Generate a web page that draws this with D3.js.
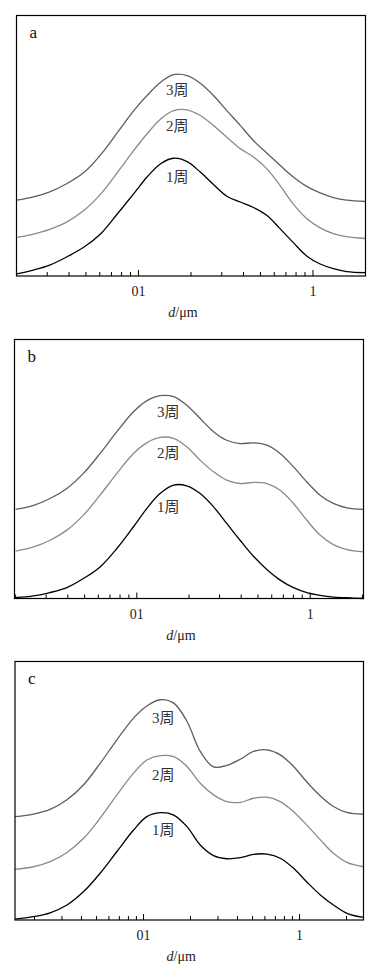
<!DOCTYPE html>
<html lang="zh">
<head>
  <meta charset="UTF-8">
  <title>粒径分布</title>
  <script src="https://d3js.org/d3.v7.min.js"></script>
  <style>
    body { margin: 0; background: #fff; }
    svg { display: block; }
    text { font-family: "Liberation Serif", "DejaVu Serif", "Noto Sans CJK SC", serif; fill: #222; }
    .frame { fill: none; stroke: #000; stroke-width: 1.2px; }
    .tick { stroke: #000; stroke-width: 1px; }
    .curve { fill: none; stroke-width: 1.3px; }
  </style>
</head>
<body>
  <svg id="chart" width="387" height="975"></svg>

  <script>
    // ----- data (d in μm, frequency in arbitrary units, 0 = frame bottom, 100 = frame top) -----
    const dA = [0.02, 0.025, 0.031, 0.039, 0.049, 0.061, 0.076, 0.094, 0.112, 0.134, 0.159, 0.19, 0.226,
                0.269, 0.321, 0.383, 0.456, 0.543, 0.647, 0.772, 0.92, 1.1, 1.31, 1.56, 2.0];
    const a1 = [0.8, 2.3, 4.2, 7.4, 11.2, 16.3, 24.0, 31.6, 38.0, 43.1, 45.2, 43.9, 39.9,
                35.1, 30.6, 28.4, 26.3, 23.3, 18.2, 12.8, 7.7, 4.6, 2.8, 1.7, 1.3];
    const a2 = [14.8, 16.1, 17.9, 20.8, 25.3, 31.6, 39.9, 48.2, 54.6, 60.3, 63.5, 63.8, 61.6,
                57.8, 53.3, 48.9, 45.7, 41.2, 34.8, 27.6, 22.1, 18.5, 16.3, 15.1, 14.4];
    const a3 = [29.1, 30.4, 32.3, 35.5, 39.9, 46.7, 55.2, 63.5, 69.3, 74.4, 77.3, 76.9, 74.0,
                69.3, 63.5, 57.8, 52.0, 47.2, 42.5, 38.0, 34.4, 31.9, 30.1, 29.1, 28.6];

    const dB = [0.02, 0.0254, 0.0316, 0.0395, 0.0492, 0.0614, 0.0767, 0.0957, 0.114, 0.136, 0.163, 0.194, 0.232,
                0.277, 0.33, 0.394, 0.471, 0.562, 0.671, 0.801, 0.957, 1.14, 1.36, 1.63, 2.03];
    const b1 = [0.3, 1.0, 2.3, 4.2, 7.7, 12.2, 19.3, 27.7, 34.7, 40.5, 43.8, 43.5, 40.5,
                35.4, 29.0, 22.5, 16.3, 11.2, 7.1, 4.2, 2.3, 1.2, 0.5, 0.3, 0.0];
    const b2 = [18.3, 19.9, 22.5, 26.4, 32.2, 39.9, 48.3, 56.0, 60.1, 62.2, 61.8, 58.6, 53.4,
                48.9, 45.7, 44.4, 44.8, 44.4, 41.8, 36.7, 30.2, 24.5, 20.8, 18.9, 18.0];
    const b3 = [34.4, 36.0, 38.6, 42.5, 48.3, 56.0, 64.4, 72.1, 76.3, 78.3, 77.9, 74.6, 69.5,
                64.4, 61.1, 59.8, 60.1, 59.2, 56.0, 50.8, 45.0, 39.9, 36.7, 35.0, 34.4];

    const dC = [0.015, 0.0197, 0.0252, 0.0323, 0.0413, 0.0527, 0.0675, 0.0863, 0.105, 0.128, 0.156, 0.19, 0.231,
                0.281, 0.342, 0.417, 0.507, 0.618, 0.752, 0.916, 1.11, 1.36, 1.65, 2.01, 2.57];
    const c1 = [0.3, 1.3, 2.8, 5.8, 11.0, 18.1, 26.5, 34.8, 40.0, 41.5, 40.6, 36.1, 29.0,
                24.9, 23.7, 24.1, 25.4, 25.5, 23.9, 20.0, 14.8, 9.7, 5.8, 2.6, 1.0];
    const c2 = [19.6, 20.6, 22.6, 26.1, 31.6, 39.4, 48.4, 56.8, 61.9, 63.6, 63.2, 59.4, 52.9,
                48.4, 45.8, 45.5, 47.1, 47.5, 45.8, 41.9, 36.8, 31.0, 25.8, 22.3, 20.6];
    const c3 = [40.0, 41.0, 42.8, 46.5, 52.3, 60.6, 69.7, 78.1, 82.8, 85.2, 83.9, 76.8, 65.2,
                59.2, 59.8, 62.2, 65.2, 65.8, 63.9, 59.4, 53.5, 48.0, 43.9, 41.6, 40.9];

    const seriesNames = ["1周", "2周", "3周"];
    const panelNames = ["a", "b", "c"];
    const xDomains = [[0.02, 2.0], [0.0197, 2.03], [0.015, 2.57]];
    const majorTicks = [0.1, 1];
    const tickLabels = ["01", "1"];
    const axisTitle = "d/μm";
    // label anchors per panel: d position and value of 1周, 2周, 3周
    const labelD = [0.167, 0.152, 0.134];
    const labelY = [[37.9, 57.5, 71.3], [35.3, 56.1, 71.9], [34.8, 56.1, 78.2]];

    // ----- layout -----
    const frames = [
      { left: 16.5, right: 365.5, top: 15.5, bottom: 276 },
      { left: 14.5, right: 363.5, top: 339.5, bottom: 598.5 },
      { left: 15, right: 363.5, top: 661.5, bottom: 920 }
    ];
    const colors = ["#000", "#8a8a8a", "#5e5e5e"];

    const panels = [
      { d: dA, ys: [a1, a2, a3] },
      { d: dB, ys: [b1, b2, b3] },
      { d: dC, ys: [c1, c2, c3] }
    ];

    const svg = d3.select("#chart");

    panels.forEach((p, pi) => {
      const f = frames[pi];
      const x = d3.scaleLog().domain(xDomains[pi]).range([f.left, f.right]);
      const y = d3.scaleLinear().domain([0, 100]).range([f.bottom, f.top]);
      const g = svg.append("g");

      // minor + major ticks, pointing inward from the bottom
      const [lo, hi] = xDomains[pi];
      const ticks = [];
      for (let e = -2; e <= 0; e++) {
        for (let m = 1; m <= 9; m++) {
          const v = m * Math.pow(10, e);
          if (v >= lo * 0.999 && v <= hi * 1.001) ticks.push(v);
        }
      }
      g.selectAll(".tick").data(ticks).enter().append("line")
        .attr("class", "tick")
        .attr("x1", d => x(d)).attr("x2", d => x(d))
        .attr("y1", f.bottom)
        .attr("y2", d => f.bottom - (majorTicks.some(t => Math.abs(t - d) < 1e-9) ? 6 : 4));

      g.selectAll(".tlabel").data(majorTicks).enter().append("text")
        .attr("x", d => x(d))
        .attr("y", f.bottom + 20)
        .attr("text-anchor", "middle")
        .style("font-size", "14px")
        .text((d, i) => tickLabels[i]);

      const title = g.append("text")
        .attr("x", (f.left + f.right) / 2 - 8)
        .attr("y", f.bottom + 41)
        .attr("text-anchor", "middle")
        .style("font-size", "14px");
      title.append("tspan").style("font-style", "italic").text(axisTitle.slice(0, 1));
      title.append("tspan").text(axisTitle.slice(1));

      // curves
      const line = d3.line()
        .x((d, i) => x(p.d[i]))
        .y(d => y(d))
        .curve(d3.curveCatmullRom.alpha(0.5));

      p.ys.forEach((vals, si) => {
        g.append("path")
          .attr("class", "curve")
          .attr("d", line(vals))
          .attr("stroke", colors[si]);
      });

      // curve labels
      seriesNames.forEach((name, si) => {
        g.append("text")
          .attr("x", x(labelD[pi]))
          .attr("y", y(labelY[pi][si]))
          .attr("text-anchor", "middle")
          .attr("dominant-baseline", "central")
          .style("font-size", "15px")
          .style("fill", "#333")
          .text(name);
      });

      g.append("text")
        .attr("x", f.left + 13)
        .attr("y", f.top + 22)
        .style("font-size", "17px")
        .style("fill", "#111")
        .text(panelNames[pi]);

      g.append("rect")
        .attr("class", "frame")
        .attr("x", f.left).attr("y", f.top)
        .attr("width", f.right - f.left)
        .attr("height", f.bottom - f.top);
    });
  </script>
</body>
</html>
